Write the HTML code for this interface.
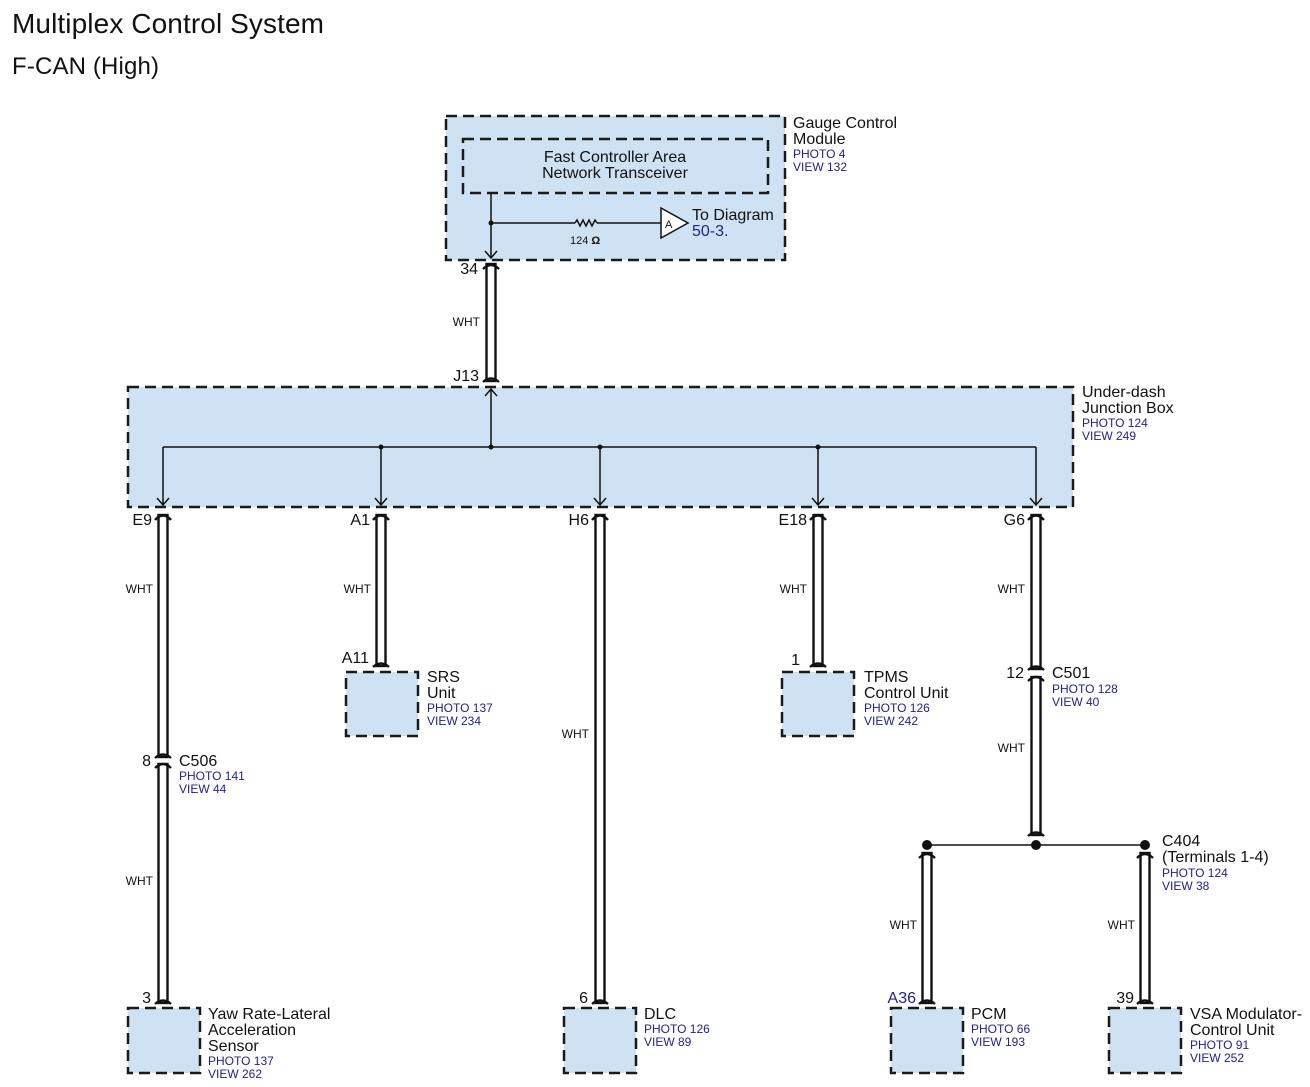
<!DOCTYPE html>
<html><head><meta charset="utf-8"><style>
body{margin:0;background:#fff;}
svg{display:block;font-family:"Liberation Sans",sans-serif;}
.b{fill:#cfe2f3;stroke:#1a1a1a;stroke-width:2.5;stroke-dasharray:11 6;}
.w{fill:#fff;stroke:#111;stroke-width:2.4;}
.c{fill:none;stroke:#111;stroke-width:2.4;}
.l{stroke:#111;stroke-width:1.5;fill:none;}
.t{font-size:16px;fill:#111;}
.p{font-size:12px;fill:#22228a;}
.s{font-size:12px;fill:#111;}
</style></head><body>
<svg width="1310" height="1087" viewBox="0 0 1310 1087">
<text x="12" y="33" font-size="28" fill="#111" textLength="312">Multiplex Control System</text>
<text x="12" y="74" font-size="24" fill="#111" textLength="147">F-CAN (High)</text>

<!-- Gauge control module -->
<rect class="b" x="446" y="116" width="339" height="144"/>
<rect class="b" x="463" y="139" width="305" height="54" style="fill:none"/>
<text class="t" x="615" y="162" text-anchor="middle">Fast Controller Area</text>
<text class="t" x="615" y="178" text-anchor="middle">Network Transceiver</text>
<path class="l" d="M491 193 V258 M485 251 L491 258 L497 251 M491 223 H575 M597 223 H661"/>
<path class="l" d="M575 223 l2 -3 l3 6 l3 -6 l3 6 l3 -6 l3 6 l3 -6 l2 3"/>
<circle cx="491" cy="223" r="2.5" fill="#111"/>
<text x="570" y="244" font-size="11" fill="#111">124 <tspan font-weight="bold">Ω</tspan></text>
<path d="M661 208 L688 223 L661 238 Z" fill="#fff" stroke="#111" stroke-width="1.5"/>
<text x="665" y="228" font-size="11" fill="#111">A</text>
<text class="t" x="692" y="220">To Diagram</text>
<text class="t" x="692" y="236" style="fill:#22228a">50-3.</text>
<text class="t" x="793" y="128">Gauge Control</text>
<text class="t" x="793" y="144">Module</text>
<text class="p" x="793" y="158">PHOTO 4</text>
<text class="p" x="793" y="171">VIEW 132</text>

<!-- Junction box -->
<rect class="b" x="128" y="387" width="945" height="120"/>
<path class="l" d="M163 447 H1036 M491 447 V389 M485 396 L491 389 L497 396"/>
<circle cx="491" cy="447" r="2.5" fill="#111"/>
<g class="l">
<path d="M163 447 V505 M157 498 L163 505 L169 498"/>
<path d="M381 447 V505 M375 498 L381 505 L387 498"/>
<path d="M600 447 V505 M594 498 L600 505 L606 498"/>
<path d="M818 447 V505 M812 498 L818 505 L824 498"/>
<path d="M1036 447 V505 M1030 498 L1036 505 L1042 498"/>
</g>
<circle cx="381" cy="447" r="2.5" fill="#111"/>
<circle cx="600" cy="447" r="2.5" fill="#111"/>
<circle cx="818" cy="447" r="2.5" fill="#111"/>
<text class="t" x="1082" y="397">Under-dash</text>
<text class="t" x="1082" y="413">Junction Box</text>
<text class="p" x="1082" y="427">PHOTO 124</text>
<text class="p" x="1082" y="440">VIEW 249</text>

<!-- wires -->
<g>
<rect class="w" x="486.5" y="264" width="9" height="117"/>
<rect class="w" x="158.5" y="515" width="9" height="242"/>
<rect class="w" x="158.5" y="764" width="9" height="239"/>
<rect class="w" x="376.5" y="515" width="9" height="151"/>
<rect class="w" x="595.5" y="515" width="9" height="488"/>
<rect class="w" x="813.5" y="515" width="9" height="151"/>
<rect class="w" x="1031.5" y="515" width="9" height="154"/>
<rect class="w" x="1031.5" y="677" width="9" height="158"/>
<rect class="w" x="922.5" y="853" width="9" height="150"/>
<rect class="w" x="1140.5" y="853" width="9" height="150"/>
</g>
<g class="c">
<path d="M483 269 Q491 261 499 269"/><path d="M483 382 Q491 375 499 382"/>
<path d="M155 520 Q163 511 171 520"/><path d="M155 758 Q163 751 171 758"/><path d="M155 768 Q163 760 171 768"/><path d="M155 1004 Q163 997 171 1004"/>
<path d="M373 520 Q381 511 389 520"/><path d="M373 667 Q381 660 389 667"/>
<path d="M592 520 Q600 511 608 520"/><path d="M592 1004 Q600 997 608 1004"/>
<path d="M810 520 Q818 511 826 520"/><path d="M810 667 Q818 660 826 667"/>
<path d="M1028 520 Q1036 511 1044 520"/><path d="M1028 670 Q1036 663 1044 670"/><path d="M1028 681 Q1036 673 1044 681"/><path d="M1028 836 Q1036 829 1044 836"/>
<path d="M919 858 Q927 850 935 858"/><path d="M919 1004 Q927 997 935 1004"/>
<path d="M1137 858 Q1145 850 1153 858"/><path d="M1137 1004 Q1145 997 1153 1004"/>
</g>
<path class="l" d="M927 845 H1145"/>
<circle cx="927" cy="845" r="5" fill="#111"/><circle cx="1036" cy="845" r="5" fill="#111"/><circle cx="1145" cy="845" r="5" fill="#111"/>

<!-- pin labels -->
<text class="t" x="478" y="274" text-anchor="end">34</text>
<text class="t" x="479" y="381" text-anchor="end">J13</text>
<text class="t" x="152" y="525" text-anchor="end">E9</text>
<text class="t" x="370" y="525" text-anchor="end">A1</text>
<text class="t" x="589" y="525" text-anchor="end">H6</text>
<text class="t" x="807" y="525" text-anchor="end">E18</text>
<text class="t" x="1025" y="525" text-anchor="end">G6</text>
<text class="t" x="369" y="663" text-anchor="end">A11</text>
<text class="t" x="800" y="665" text-anchor="end">1</text>
<text class="t" x="1024" y="678" text-anchor="end">12</text>
<text class="t" x="151" y="766" text-anchor="end">8</text>
<text class="t" x="151" y="1003" text-anchor="end">3</text>
<text class="t" x="588" y="1003" text-anchor="end">6</text>
<text class="t" x="916" y="1003" text-anchor="end" style="fill:#22228a">A36</text>
<text class="t" x="1134" y="1003" text-anchor="end">39</text>

<g class="s" text-anchor="end">
<text x="480" y="326">WHT</text>
<text x="153" y="593">WHT</text>
<text x="153" y="885">WHT</text>
<text x="371" y="593">WHT</text>
<text x="589" y="738">WHT</text>
<text x="807" y="593">WHT</text>
<text x="1025" y="593">WHT</text>
<text x="1025" y="752">WHT</text>
<text x="917" y="929">WHT</text>
<text x="1135" y="929">WHT</text>
</g>

<!-- connectors -->
<text class="t" x="179" y="766">C506</text>
<text class="p" x="179" y="780">PHOTO 141</text>
<text class="p" x="179" y="793">VIEW 44</text>
<text class="t" x="1052" y="678">C501</text>
<text class="p" x="1052" y="693">PHOTO 128</text>
<text class="p" x="1052" y="706">VIEW 40</text>
<text class="t" x="1162" y="846">C404</text>
<text class="t" x="1162" y="862">(Terminals 1-4)</text>
<text class="p" x="1162" y="877">PHOTO 124</text>
<text class="p" x="1162" y="890">VIEW 38</text>

<!-- components -->
<rect class="b" x="346" y="672" width="72" height="64"/>
<text class="t" x="427" y="682">SRS</text><text class="t" x="427" y="698">Unit</text>
<text class="p" x="427" y="712">PHOTO 137</text><text class="p" x="427" y="725">VIEW 234</text>

<rect class="b" x="782" y="672" width="72" height="64"/>
<text class="t" x="864" y="682">TPMS</text><text class="t" x="864" y="698">Control Unit</text>
<text class="p" x="864" y="712">PHOTO 126</text><text class="p" x="864" y="725">VIEW 242</text>

<rect class="b" x="128" y="1008" width="72" height="65"/>
<text class="t" x="208" y="1019">Yaw Rate-Lateral</text><text class="t" x="208" y="1035">Acceleration</text><text class="t" x="208" y="1051">Sensor</text>
<text class="p" x="208" y="1065">PHOTO 137</text><text class="p" x="208" y="1078">VIEW 262</text>

<rect class="b" x="564" y="1008" width="72" height="65"/>
<text class="t" x="644" y="1019">DLC</text>
<text class="p" x="644" y="1033">PHOTO 126</text><text class="p" x="644" y="1046">VIEW 89</text>

<rect class="b" x="891" y="1008" width="72" height="65"/>
<text class="t" x="971" y="1019">PCM</text>
<text class="p" x="971" y="1033">PHOTO 66</text><text class="p" x="971" y="1046">VIEW 193</text>

<rect class="b" x="1109" y="1008" width="72" height="65"/>
<text class="t" x="1190" y="1019">VSA Modulator-</text><text class="t" x="1190" y="1035">Control Unit</text>
<text class="p" x="1190" y="1049">PHOTO 91</text><text class="p" x="1190" y="1062">VIEW 252</text>
</svg>
</body></html>
